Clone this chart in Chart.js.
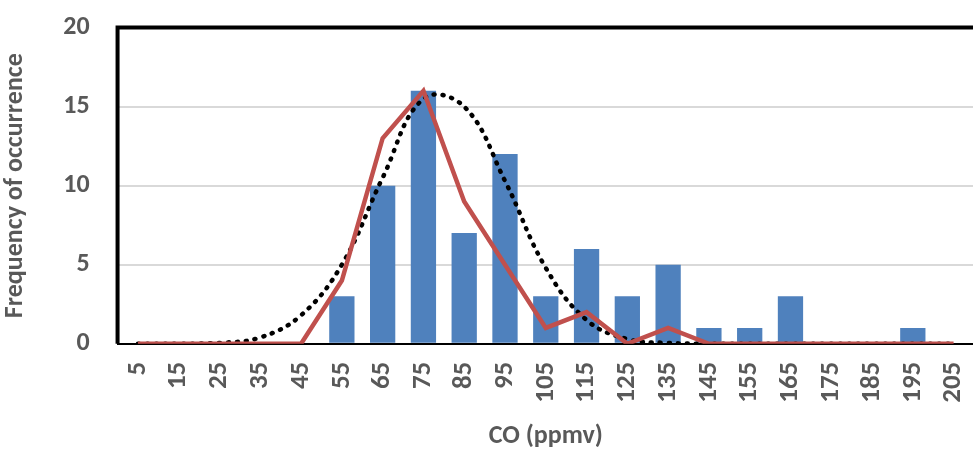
<!DOCTYPE html>
<html><head><script src="https://cdn.jsdelivr.net/npm/chart.js@4"></script>
<style>body{margin:0;background:#fff;overflow:hidden}#w{width:996px;height:468px;margin-top:-16px}</style></head>
<body><div id="w"><canvas id="c"></canvas></div>
<script>
var categories = ['5','15','25','35','45','55','65','75','85','95','105','115','125','135','145','155','165','175','185','195','205'];
var observed = [0,0,0,0,0,3,10,16,7,12,3,6,3,5,1,1,3,0,0,1,0];
var smoothed = [0,0,0,0,0,4,13,16,9,5,1,2,0,1,0,0,0,0,0,0,0];
var fitted = [0,0,0.05,0.4,1.8,5,10.5,15.5,15,10.3,4.8,1.5,0.3,0.05,0,0,0,0,0,0,0];
var yTicks = [0,5,10,15,20];

var frame = {
  id: 'frame',
  afterDraw: function (c) {
    var a = c.chartArea, x = c.ctx;
    x.save(); x.strokeStyle = '#000'; x.lineWidth = 4;
    x.beginPath(); x.moveTo(a.left, a.bottom); x.lineTo(a.left, a.top); x.lineTo(a.right, a.top); x.stroke();
    x.restore();
  }
};
var fam = 'Calibri, Carlito, Lato, sans-serif';
var tickFont = { family: fam, weight: 'bold', size: 27 };
var titleFont = { family: fam, weight: 'bold', size: 26 };
new Chart(document.getElementById('c'), {
  data: {
    labels: categories,
    datasets: [
      { type: 'line', data: fitted, borderColor: '#000', borderWidth: 4.5, borderDash: [1, 8], borderCapStyle: 'round', pointRadius: 0, tension: 0.4, order: 1 },
      { type: 'line', data: smoothed, borderColor: '#C0504D', borderWidth: 4.5, pointRadius: 0, tension: 0, order: 0 },
      { type: 'bar', data: observed, backgroundColor: '#4F81BD', categoryPercentage: 0.62, barPercentage: 1, order: 2 }
    ]
  },
  options: {
    responsive: true, maintainAspectRatio: false, animation: false,
    layout: { padding: { top: 0, right: 0, left: 0, bottom: 0 } },
    plugins: { legend: { display: false }, tooltip: { enabled: false } },
    scales: {
      x: {
        grid: { display: false }, border: { color: '#000', width: 2 },
        ticks: { color: '#595959', font: tickFont, maxRotation: 90, minRotation: 90, padding: 10 },
        title: { display: true, text: 'CO (ppmv)', color: '#595959', font: titleFont, padding: { top: 8, bottom: 0 } }
      },
      y: {
        min: 0, max: 20,
        afterBuildTicks: function (s) { s.ticks = yTicks.map(function (v) { return { value: v }; }); },
        grid: { color: '#D9D9D9', lineWidth: 2, drawTicks: false }, border: { display: false },
        ticks: { color: '#595959', font: { family: fam, weight: 'bold', size: 26 }, padding: 28 },
        title: { display: true, text: 'Frequency of occurrence', color: '#595959', font: titleFont, padding: { top: 0, bottom: 4 } }
      }
    }
  },
  plugins: [frame]
});
</script></body></html>
